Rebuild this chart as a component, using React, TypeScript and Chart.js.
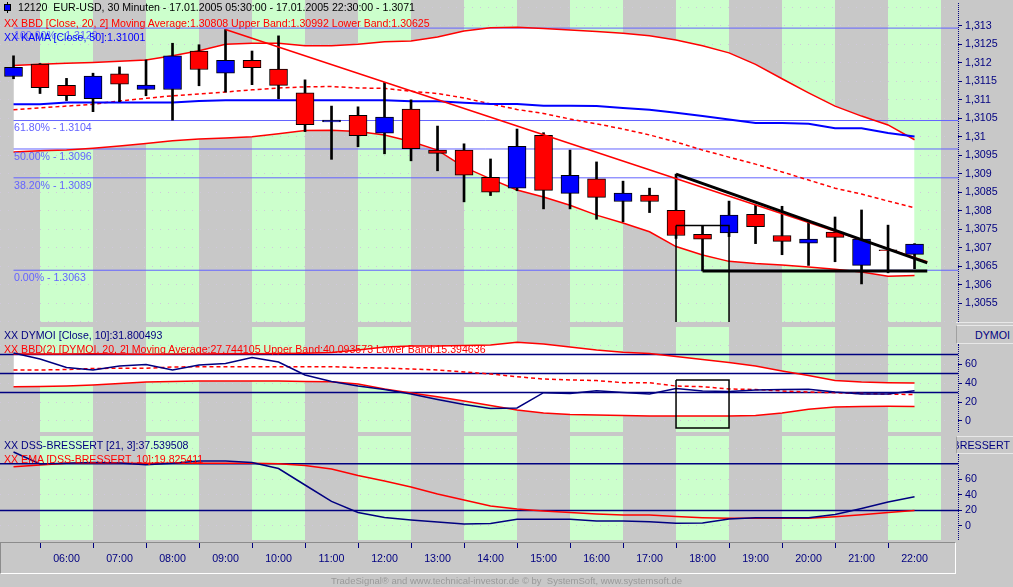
import React, { useEffect, useRef } from "react";
import { Chart, registerables } from "chart.js";

Chart.register(...registerables);

const FONT = "'Liberation Sans', Arial, Helvetica, sans-serif";
Chart.defaults.font.family = FONT;

const GRAY = "#c8c8c8";
const GREEN = "#ccffcc";
const NAVY = "#000080";
const RED = "#ff0000";
const BLUE = "#0000ff";
const FIB = "#6464ff";
const DOTS = "#d0c8dc";

const X_MIN = -0.51;
const X_MAX = 35.64;

// ---------- data ----------
const candleTimes = ["05:30","06:00","06:30","07:00","07:30","08:00","08:30","09:00","09:30","10:00","10:30","11:00","11:30","12:00","12:30","13:00","13:30","14:00","14:30","15:00","15:30","16:00","16:30","17:00","17:30","18:00","18:30","19:00","19:30","20:00","20:30","21:00","21:30","22:00","22:30"];

const opens = [1.31163,1.31197,1.31139,1.31103,1.3117,1.31128,1.31128,1.31232,1.31172,1.31207,1.31183,1.31119,1.3104,1.31058,1.3101,1.31075,1.30964,1.30964,1.3089,1.30861,1.31004,1.30847,1.30886,1.30825,1.30842,1.30801,1.30736,1.3074,1.3079,1.30733,1.30712,1.30742,1.30652,1.30694,1.30682];
const highs = [1.31219,1.31198,1.31158,1.31172,1.31189,1.31208,1.31253,1.31249,1.3129,1.31232,1.31273,1.31154,1.31083,1.31081,1.31147,1.311,1.31029,1.30981,1.3094,1.31021,1.31011,1.30964,1.30932,1.3088,1.30861,1.30899,1.3076,1.30826,1.30815,1.30812,1.3077,1.30783,1.30802,1.30761,1.30711];
const lows = [1.31157,1.31117,1.31098,1.31068,1.31095,1.31111,1.31045,1.31138,1.31121,1.31141,1.31103,1.31014,1.30939,1.30973,1.30954,1.30935,1.30908,1.30824,1.30841,1.30854,1.30805,1.30805,1.30777,1.3077,1.30795,1.30725,1.30637,1.3073,1.30711,1.30681,1.30652,1.30662,1.30602,1.30632,1.30643];
const closes = [1.31188,1.31133,1.31111,1.31164,1.31142,1.3114,1.31219,1.31182,1.31207,1.31187,1.31139,1.31033,1.31045,1.31003,1.31053,1.30968,1.30955,1.30896,1.3085,1.30974,1.30855,1.30896,1.30836,1.30848,1.30825,1.30733,1.30723,1.30788,1.30757,1.30717,1.30723,1.30728,1.30723,1.30692,1.3071];

const bbUpper = [1.31193,1.31196,1.31199,1.31201,1.31204,1.31208,1.31219,1.31233,1.3125,1.31253,1.31253,1.31246,1.31246,1.3125,1.31257,1.31259,1.3127,1.31286,1.31295,1.31296,1.31293,1.31289,1.31285,1.3128,1.31273,1.31262,1.31246,1.31227,1.31196,1.31157,1.31119,1.31083,1.31056,1.31032,1.30992];
const bbMiddle = [1.31073,1.31078,1.31083,1.31088,1.31097,1.31104,1.31111,1.31116,1.31121,1.31127,1.31132,1.31135,1.31136,1.31132,1.31131,1.31123,1.31117,1.31105,1.31089,1.31074,1.31063,1.31048,1.31035,1.31021,1.31005,1.30986,1.30964,1.30945,1.30926,1.30905,1.30883,1.30861,1.30845,1.30826,1.30808];
const bbLower = [1.30959,1.30962,1.30964,1.30969,1.30975,1.30982,1.30989,1.30994,1.30997,1.31,1.31008,1.31017,1.31018,1.31014,1.31005,1.30987,1.30964,1.30918,1.30886,1.30856,1.30837,1.30815,1.30788,1.30767,1.30743,1.30703,1.3068,1.30663,1.30657,1.30653,1.30648,1.30642,1.30634,1.30623,1.30625];
const kama = [1.31088,1.31088,1.31093,1.31093,1.31093,1.31093,1.31093,1.31097,1.31099,1.31099,1.31099,1.31099,1.31099,1.31099,1.31099,1.31096,1.31096,1.31092,1.31089,1.31089,1.31084,1.31084,1.31083,1.31078,1.31073,1.31065,1.31056,1.31047,1.31037,1.31037,1.31035,1.31023,1.31023,1.3101,1.31001];

const fibLevels = [1.31294, 1.31044, 1.30967, 1.30889, 1.30639];
const fibLabels = ["100.00% - 1.3129", "61.80% - 1.3104", "50.00% - 1.3096", "38.20% - 1.3089", "0.00% - 1.3063"];

const redTrendX = [8, 34.48];
const redTrendY = [1.3129, 1.30662];
const blackTrendX = [25, 34.48];
const blackTrendY = [1.30899, 1.30659];
const supportX = [26, 34.48];
const supportY = [1.30637, 1.30637];
const boxX = [25, 27];
const boxPriceY = [1.3076, 1.304];
const boxDymoiY = [43.2, -7.4];

const priceTicks = [1.305,1.3055,1.306,1.3065,1.307,1.3075,1.308,1.3085,1.309,1.3095,1.31,1.3105,1.311,1.3115,1.312,1.3125,1.313,1.3135];
const PRICE_MIN = 1.30499;
const PRICE_MAX = 1.3137;

const dymoi = [71.6,65.3,56.3,53.7,57.9,59.5,53.7,58.9,60.5,66.8,62.1,48.4,41.6,36.8,33.2,28.4,22.6,17.4,13.2,13.7,29.8,28.9,31.9,30.0,28.4,34.2,31.6,31.1,32.6,33.2,33.4,30.5,28.4,28.4,31.8];
const dymoiUpper = [70.4,70.6,70.5,70.7,70.4,70.3,70.5,70.6,70.8,70.9,71.0,71.2,72.0,74.7,77.9,78.9,78.9,79.5,80.0,82.8,81.1,77.9,74.7,72.3,71.1,67.9,64.7,61.6,57.9,52.6,47.9,42.6,41.1,40.3,40.09];
const dymoiMiddle = [53.7,53.7,54.2,55.3,55.5,55.5,56.8,57.2,57.2,57.2,57.2,57.2,57.2,56.1,55.8,54.7,53.7,51.6,49.5,46.6,44.2,43.2,42.6,40.3,40.3,36.8,36.1,33.7,33.2,31.6,30.5,29.8,28.9,28.4,27.74];
const dymoiLower = [36.1,36.3,36.8,37.9,39.5,41.1,41.6,42.1,42.1,42.1,42.1,41.6,41.4,38.9,33.7,29.5,25.6,21.1,16.3,11.6,8.4,6.8,6.3,5.8,5.3,5.3,5.3,5.3,5.8,8.4,12.3,14.7,15.3,15.5,15.39];
const dymoiLevels = [70, 50, 30];
const dymoiTicks = [0, 20, 40, 60, 80];
const DYMOI_MIN = -11.58;
const DYMOI_MAX = 98.95;

const dss = [95.1,79.7,80.6,81.6,81.0,78.8,80.6,83.5,83.5,81.6,73.9,52.7,31.7,17.4,10.9,7.7,5.1,2.6,3.2,8.6,8.6,8.6,6.4,6.4,5.5,3.5,3.9,9.0,10.7,10.7,10.7,14.8,22.5,30.8,37.54];
const dssEma = [76.2,78.4,80.6,80.6,80.6,80.6,80.6,80.6,80.6,80.6,79.9,77.8,73.3,64.9,57.8,50.1,41.1,33.4,25.7,21.9,19.3,17.4,15.4,14.1,14.1,12.2,10.7,9.9,9.9,9.9,9.9,12.0,14.4,17.4,19.83];
const dssLevels = [80, 20];
const dssTicks = [0, 20, 40, 60, 80, 100];
const DSS_MIN = -18.0;
const DSS_MAX = 115.7;

const hourTicks = candleTimes.map((t, i) => (t.endsWith(":00") ? i : -1)).filter((i) => i >= 0);
const hourLabels = hourTicks.map((i) => candleTimes[i]);

// ---------- helpers ----------
const series = (vals: number[]) => vals.map((y, i) => ({ x: i, y }));
const pts = (xs: number[], ys: number[]) => xs.map((x, i) => ({ x, y: ys[i] }));
const hline = (y: number, from: number) => [{ x: from, y }, { x: X_MAX, y }];
const rect = (xs: number[], ys: number[]) => [
  { x: xs[0], y: ys[0] }, { x: xs[1], y: ys[0] }, { x: xs[1], y: ys[1] }, { x: xs[0], y: ys[1] }, { x: xs[0], y: ys[0] },
];
const line = (data: any[], color: string, width: number, order: number, extra: any = {}) => ({
  type: "line", data, borderColor: color, borderWidth: width, pointRadius: 0, tension: 0, fill: false, order, ...extra,
});

const stripePlugin = {
  id: "stripes",
  beforeDraw(chart: any) {
    const { ctx, chartArea, scales } = chart;
    const x = scales.x;
    ctx.save();
    ctx.fillStyle = GRAY;
    ctx.fillRect(0, 0, chart.width, chart.height);
    ctx.fillStyle = GREEN;
    hourTicks.forEach((t, k) => {
      if (parseInt(hourLabels[k], 10) % 2 !== 0) return;
      const x1 = Math.round(x.getPixelForValue(t));
      const x2 = Math.round(x.getPixelForValue(t + 2));
      ctx.fillRect(x1, chartArea.top, x2 - x1, chartArea.bottom - chartArea.top);
    });
    ctx.restore();
  },
};

const fibLabelPlugin = {
  id: "fibLabels",
  afterDatasetsDraw(chart: any) {
    const { ctx, scales } = chart;
    ctx.save();
    ctx.font = `10.6px ${FONT}`;
    ctx.fillStyle = FIB;
    ctx.textBaseline = "middle";
    ctx.textAlign = "left";
    fibLevels.forEach((lvl, i) => {
      ctx.fillText(fibLabels[i], scales.x.getPixelForValue(0) + 0.5, scales.y.getPixelForValue(lvl) + 8);
    });
    ctx.restore();
  },
};

function yAxis(min: number, max: number, tickValues: number[], show: (v: number) => boolean, fmt: (v: number) => string) {
  return {
    type: "linear",
    position: "right",
    min,
    max,
    bounds: "data",
    afterBuildTicks: (s: any) => {
      s.ticks = tickValues.map((v) => ({ value: v }));
    },
    afterFit: (s: any) => {
      s.width = 55;
      s.paddingTop = 0;
      s.paddingBottom = 0;
    },
    grid: {
      drawOnChartArea: true,
      drawTicks: true,
      tickLength: 4,
      lineWidth: 1,
      color: DOTS,
      tickColor: (c: any) => (c.tick && show(c.tick.value) ? NAVY : "rgba(0,0,0,0)"),
      tickWidth: 1,
    },
    border: { display: false, dash: [1, 7] },
    ticks: {
      color: NAVY,
      padding: 3,
      font: { family: FONT, size: 10.7 },
      callback: (v: number) => (show(v) ? fmt(v) : ""),
    },
  };
}

function options(y: any, xExtra: any = {}) {
  return {
    animation: false,
    responsive: false,
    maintainAspectRatio: false,
    devicePixelRatio: 1,
    events: [],
    layout: { padding: 0 },
    plugins: {
      legend: { display: false },
      tooltip: { enabled: false },
      filler: { drawTime: "beforeDatasetsDraw" },
    },
    scales: {
      x: {
        type: "linear",
        min: X_MIN,
        max: X_MAX,
        bounds: "data",
        offset: false,
        display: false,
        afterBuildTicks: (s: any) => {
          s.ticks = hourTicks.map((v) => ({ value: v }));
        },
        ...xExtra,
      },
      y,
    },
  };
}

const fmtPrice = (v: number) => String(Math.round(v * 10000) / 10000).replace(".", ",");
const fmtInt = (v: number) => String(Math.round(v));

function topConfig(): any {
  const idx = candleTimes.map((_, i) => i);
  return {
    type: "line",
    data: {
      datasets: [
        line(series(bbUpper), RED, 1.5, 6),
        line(series(bbLower), RED, 1.5, 6, { fill: "-1", backgroundColor: "#ffffff" }),
        line(series(bbMiddle), RED, 1.5, 6, { borderDash: [4, 3] }),
        ...fibLevels.map((lvl) => line(hline(lvl, 0), FIB, 1, 8)),
        line(series(kama), BLUE, 2, 5),
        {
          type: "bar",
          data: idx.map((i) => ({ x: i, y: [lows[i], highs[i]] })),
          backgroundColor: "#000000",
          borderWidth: 0,
          grouped: false,
          barThickness: 2,
          maxBarThickness: 2,
          order: 4,
        },
        {
          type: "bar",
          data: idx.map((i) => ({ x: i, y: [opens[i], closes[i]] })),
          backgroundColor: idx.map((i) => (closes[i] >= opens[i] ? BLUE : RED)),
          borderColor: "#000000",
          borderWidth: 1,
          borderSkipped: false,
          grouped: false,
          barThickness: 18,
          maxBarThickness: 18,
          order: 3,
        },
        line(rect(boxX, boxPriceY), "#000000", 1.5, 2),
        line(pts(redTrendX, redTrendY), RED, 1.5, 1),
        line(pts(blackTrendX, blackTrendY), "#000000", 3, 0),
        line(pts(supportX, supportY), "#000000", 3, 0),
      ],
    },
    options: options(yAxis(PRICE_MIN, PRICE_MAX, priceTicks, (v) => v > 1.3052 && v < 1.3132, fmtPrice)),
    plugins: [stripePlugin, fibLabelPlugin],
  };
}

function midConfig(): any {
  return {
    type: "line",
    data: {
      datasets: [
        line(series(dymoiUpper), RED, 1.5, 6),
        line(series(dymoiLower), RED, 1.5, 6, { fill: "-1", backgroundColor: "#ffffff" }),
        line(series(dymoiMiddle), RED, 1.5, 6, { borderDash: [4, 3] }),
        ...dymoiLevels.map((lvl) => line(hline(lvl, X_MIN), NAVY, 1.5, 7)),
        line(series(dymoi), NAVY, 1.5, 1),
        line(rect(boxX, boxDymoiY), "#000000", 1.5, 0),
      ],
    },
    options: options(yAxis(DYMOI_MIN, DYMOI_MAX, dymoiTicks, (v) => v <= 61, fmtInt)),
    plugins: [stripePlugin],
  };
}

function botConfig(): any {
  return {
    type: "line",
    data: {
      datasets: [
        ...dssLevels.map((lvl) => line(hline(lvl, X_MIN), NAVY, 1.5, 5)),
        line(series(dssEma), RED, 1.5, 2),
        line(series(dss), NAVY, 1.5, 1),
      ],
    },
    options: options(yAxis(DSS_MIN, DSS_MAX, dssTicks, (v) => v <= 61, fmtInt), {
      display: true,
      afterFit: (s: any) => {
        s.height = 35;
        s.paddingLeft = 0;
        s.paddingRight = 0;
      },
      grid: { drawOnChartArea: false, drawTicks: true, tickLength: 8, tickColor: NAVY, tickWidth: 1 },
      border: { display: false },
      ticks: {
        autoSkip: false,
        maxRotation: 0,
        minRotation: 0,
        color: NAVY,
        padding: 5,
        labelOffset: 26.5,
        font: { family: FONT, size: 10.7 },
        callback: (_v: number, i: number) => hourLabels[i] ?? "",
      },
    }),
    plugins: [stripePlugin],
  };
}

// ---------- texts ----------
const headerMain = "12120  EUR-USD, 30 Minuten - 17.01.2005 05:30:00 - 17.01.2005 22:30:00 - 1.3071";
const headerBBD = "XX BBD [Close, 20, 2] Moving Average:1.30808 Upper Band:1.30992 Lower Band:1.30625";
const headerKAMA = "XX KAMA [Close, 50]:1.31001";
const headerDYMOI = "XX DYMOI [Close, 10]:31.800493";
const headerBBD2 = "XX BBD(2) [DYMOI, 20, 2] Moving Average:27.744105 Upper Band:40.093573 Lower Band:15.394636";
const headerDSS = "XX DSS-BRESSERT [21, 3]:37.539508";
const headerEMA = "XX EMA [DSS-BRESSERT, 10]:19.825411";
const footerText = "TradeSignal\u00ae and www.technical-investor.de \u00a9 by  SystemSoft, www.systemsoft.de";

const T = (s: any): any => ({
  position: "absolute",
  whiteSpace: "pre",
  fontSize: "10.6px",
  lineHeight: "12px",
  fontFamily: FONT,
  ...s,
});

export default function App() {
  const topRef = useRef<HTMLCanvasElement>(null);
  const midRef = useRef<HTMLCanvasElement>(null);
  const botRef = useRef<HTMLCanvasElement>(null);

  useEffect(() => {
    const charts = [
      new Chart(topRef.current as any, topConfig()),
      new Chart(midRef.current as any, midConfig()),
      new Chart(botRef.current as any, botConfig()),
    ];
    return () => charts.forEach((c) => c.destroy());
  }, []);

  return (
    <div style={{ position: "fixed", left: 0, top: 0, width: 1013, height: 587, background: GRAY, overflow: "hidden", fontFamily: FONT }}>
      <canvas ref={topRef} width={1013} height={322} style={{ position: "absolute", left: 0, top: 0, width: 1013, height: 322 }} />
      <canvas ref={midRef} width={1013} height={105} style={{ position: "absolute", left: 0, top: 327, width: 1013, height: 105 }} />
      <canvas ref={botRef} width={1013} height={139} style={{ position: "absolute", left: 0, top: 436, width: 1013, height: 139 }} />

      {/* right axis decorations */}
      <div style={{ position: "absolute", left: 958, top: 3, height: 319, borderLeft: `1px dotted ${NAVY}` }} />
      <div style={{ position: "absolute", left: 956, top: 322, width: 57, height: 0, borderTop: "1px solid #e8e8e8" }} />
      <div style={{ position: "absolute", left: 956, top: 325, width: 57, height: 17, borderTop: "1px solid #e8e8e8", borderBottom: "1px solid #e8e8e8", borderLeft: "1px solid #a0a0a0", background: GRAY, overflow: "hidden" }}>
        <div style={T({ right: 4, top: 3, color: NAVY, fontSize: "10.7px" })}>DYMOI</div>
      </div>
      <div style={{ position: "absolute", left: 958, top: 344, height: 88, borderLeft: `1px dotted ${NAVY}` }} />
      <div style={{ position: "absolute", left: 956, top: 436, width: 57, height: 16, borderTop: "1px solid #e8e8e8", borderBottom: "1px solid #e8e8e8", borderLeft: "1px solid #a0a0a0", background: GRAY, overflow: "hidden" }}>
        <div style={T({ right: 4, top: 2, color: NAVY, fontSize: "10.7px" })}>DSS-BRESSERT</div>
      </div>
      <div style={{ position: "absolute", left: 958, top: 454, height: 86, borderLeft: `1px dotted ${NAVY}` }} />

      {/* x axis frame */}
      <div style={{ position: "absolute", left: 0, top: 540, width: 956, height: 3, background: GRAY }} />
      <div style={{ position: "absolute", left: 0, top: 542, width: 954, height: 30, borderTop: "1px solid #8c8c8c", borderLeft: "1px solid #8c8c8c", borderRight: "1px solid #ffffff", borderBottom: "1px solid #ffffff" }} />

      {/* panel headers */}
      <div style={{ position: "absolute", left: 7, top: 2, width: 1, height: 11, background: "#000" }} />
      <div style={{ position: "absolute", left: 4, top: 4, width: 5, height: 5, background: BLUE, border: "1px solid #000" }} />
      <div style={T({ left: 18, top: 1, color: "#000000" })}>{headerMain}</div>
      <div style={T({ left: 4, top: 17, color: RED })}>{headerBBD}</div>
      <div style={T({ left: 4, top: 31, color: BLUE })}>{headerKAMA}</div>
      <div style={T({ left: 4, top: 329, color: NAVY })}>{headerDYMOI}</div>
      <div style={T({ left: 4, top: 343, color: RED })}>{headerBBD2}</div>
      <div style={T({ left: 4, top: 439, color: NAVY })}>{headerDSS}</div>
      <div style={T({ left: 4, top: 453, color: RED })}>{headerEMA}</div>

      {/* footer */}
      <div style={T({ left: 0, top: 575, width: 1013, textAlign: "center", color: "#999999", fontSize: "9.5px" })}>{footerText}</div>
    </div>
  );
}
